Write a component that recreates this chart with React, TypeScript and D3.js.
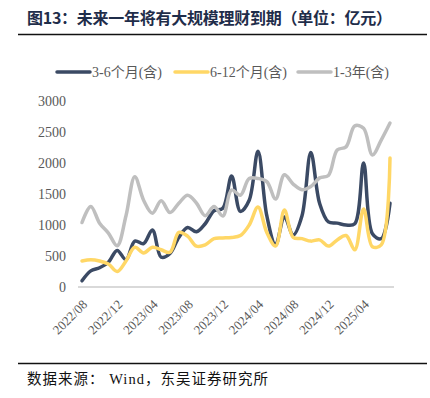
import React from "react";
import * as d3 from "d3";

const months = [
  "2022/08", "2022/09", "2022/10", "2022/11", "2022/12", "2023/01",
  "2023/02", "2023/03", "2023/04", "2023/05", "2023/06", "2023/07",
  "2023/08", "2023/09", "2023/10", "2023/11", "2023/12", "2024/01",
  "2024/02", "2024/03", "2024/04", "2024/05", "2024/06", "2024/07",
  "2024/08", "2024/09", "2024/10", "2024/11", "2024/12", "2025/01",
  "2025/02", "2025/03", "2025/04", "2025/05", "2025/06", "2025/07",
];

const tickLabels = [
  "2022/08", "2022/12", "2023/04", "2023/08", "2023/12",
  "2024/04", "2024/08", "2024/12", "2025/04",
];

const yTicks = [0, 500, 1000, 1500, 2000, 2500, 3000];

// 3-6个月(含)
const short36 = [
  100, 260, 310, 400, 590, 440, 740, 700, 920, 480, 540, 800,
  960, 890, 1020, 1230, 1270, 1790, 1220, 1400, 2190, 1150, 680, 1130,
  840, 1150, 2170, 1350, 1050, 1030, 1000, 1020, 2000, 860, 780, 1350,
];

// 6-12个月(含)
const mid612 = [
  420, 440, 420, 370, 250, 420, 640, 550, 640, 600, 560, 880,
  820, 660, 680, 780, 790, 800, 830, 1000, 1290, 880, 660, 1240,
  800, 780, 740, 760, 660, 760, 830, 600, 1260, 650, 680, 2080,
];

// 1-3年(含)
const long13 = [
  1040, 1300, 1030, 870, 666, 1150, 1780, 1400, 1190, 1390, 1200, 1350,
  1480, 1355, 1150, 1300, 1145, 1565, 1480, 1750, 1750, 1700, 1420, 1810,
  1660, 1570, 1620, 1760, 1800, 2210, 2260, 2600, 2560, 2130, 2370, 2645,
];

const series = [
  { name: "3-6个月(含)", values: short36, color: "#3B4A64" },
  { name: "6-12个月(含)", values: mid612, color: "#FFD766" },
  { name: "1-3年(含)", values: long13, color: "#BFBFBF" },
];

const serif = "'Liberation Serif', 'Noto Sans CJK SC', serif";

export default function App() {
  const width = 430;
  const height = 398;

  const x = d3.scalePoint<string>().domain(months).range([82, 390]);
  const y = d3.scaleLinear().domain([0, 3000]).range([287, 101]);

  const line = d3
    .line<number>()
    .x((_, i) => x(months[i]) as number)
    .y((d) => y(d))
    .curve(d3.curveCatmullRom.alpha(0.5));

  const legendPos = [57, 175, 298];

  return (
    <svg
      width={width}
      height={height}
      style={{ position: "fixed", left: 0, top: 0, background: "#fff" }}
    >
      <text
        x={27}
        y={24}
        fontFamily="'Noto Sans CJK SC', sans-serif"
        fontWeight="bold"
        fontSize={16}
        textLength={365}
        lengthAdjust="spacing"
        fill="#1F2D4A"
      >
        图13：未来一年将有大规模理财到期（单位：亿元）
      </text>
      <line x1={18} x2={427} y1={34.5} y2={34.5} stroke="#111" strokeWidth={1.5} />

      {series.map((s, i) => (
        <g key={s.name} transform={`translate(${legendPos[i]},72)`}>
          <line x1={0} x2={33} y1={0} y2={0} stroke={s.color} strokeWidth={3.5} strokeLinecap="round" />
          <text x={35} y={0} dy="0.35em" fontFamily={serif} fontSize={14} fill="#595959">
            {s.name}
          </text>
        </g>
      ))}

      {yTicks.map((t) => (
        <text
          key={t}
          x={66}
          y={y(t)}
          dy="0.35em"
          textAnchor="end"
          fontFamily={serif}
          fontSize={14}
          fill="#595959"
        >
          {t}
        </text>
      ))}

      <line x1={78} x2={394} y1={287} y2={287} stroke="#D9D9D9" strokeWidth={2} />

      {tickLabels.map((t) => (
        <text
          key={t}
          transform={`translate(${(x(t) as number) + 3},${302}) rotate(-45)`}
          textAnchor="end"
          dy="0.35em"
          fontFamily={serif}
          fontSize={13}
          fill="#595959"
        >
          {t}
        </text>
      ))}

      {series.map((s) => (
        <path
          key={s.name}
          d={line(s.values) || ""}
          fill="none"
          stroke={s.color}
          strokeWidth={3.5}
          strokeLinecap="round"
          strokeLinejoin="round"
        />
      ))}

      <line x1={18} x2={427} y1={363.5} y2={363.5} stroke="#111" strokeWidth={1.5} />
      <text
        x={27}
        y={384}
        fontFamily="'Noto Sans CJK SC', serif"
        fontSize={14.5}
        textLength={241}
        lengthAdjust="spacing"
        fill="#111"
      >
        数据来源：
        <tspan fontFamily={serif}> Wind</tspan>
        ，东吴证券研究所
      </text>
    </svg>
  );
}
